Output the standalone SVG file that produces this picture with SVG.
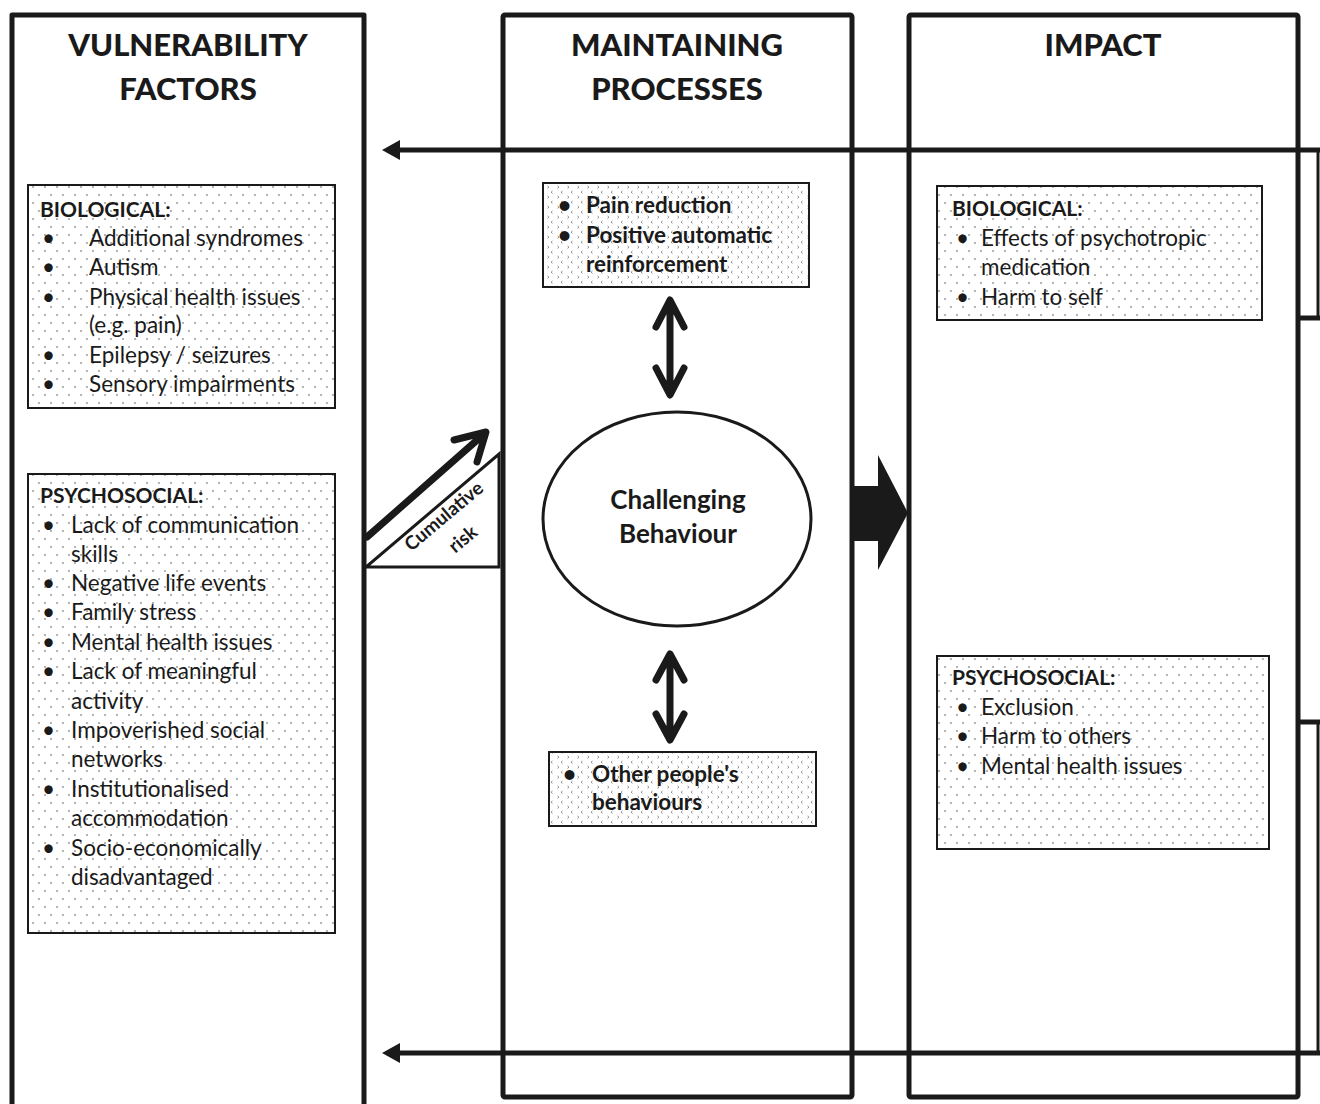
<svg xmlns="http://www.w3.org/2000/svg" width="1320" height="1104" viewBox="0 0 1320 1104">
<defs>
<pattern id="dots" width="12" height="16" patternUnits="userSpaceOnUse">
<rect width="12" height="16" fill="#fff"/>
<circle cx="3" cy="3" r="0.8" fill="#555"/>
<circle cx="9" cy="11" r="0.8" fill="#555"/>
</pattern>
<pattern id="chev" width="10" height="10" patternUnits="userSpaceOnUse">
<rect width="10" height="10" fill="#fff"/>
<path d="M2.5,1 L1,2.2 L2.5,3.4 M7.5,6 L9,7.2 L7.5,8.4" fill="none" stroke="#666" stroke-width="0.7"/>
</pattern>
</defs>
<style>
.col{fill:none;stroke:#1a1a1a;stroke-width:5;stroke-linejoin:round}
.box{stroke:#1a1a1a;stroke-width:2}
.hd{font-family:Lato,"Open Sans",sans-serif;font-weight:900;font-size:31px;fill:#1a1a1a;text-anchor:middle}
.t{font-family:Lato,"Open Sans",sans-serif;font-size:22.5px;fill:#1a1a1a}
.b{font-family:Lato,"Open Sans",sans-serif;font-size:21px;font-weight:bold;fill:#1a1a1a}
.mb{font-family:Lato,"Open Sans",sans-serif;font-size:22.5px;font-weight:bold;fill:#1a1a1a}
.ln{stroke:#1a1a1a;stroke-width:5;fill:none}
.dbl{fill:none;stroke:#1a1a1a;stroke-width:7;stroke-linecap:round;stroke-linejoin:round}
</style>

<g id="col-vulnerability">
<path class="col" d="M12,1104 V15 H364 V1104"/>
<text class="hd" x="188" y="56">VULNERABILITY</text>
<text class="hd" x="188" y="100">FACTORS</text>
</g>
<g id="col-maintaining">
<rect class="col" x="503" y="15" width="349" height="1082" rx="2"/>
<text class="hd" x="677" y="56">MAINTAINING</text>
<text class="hd" x="677" y="100">PROCESSES</text>
</g>
<g id="col-impact">
<rect class="col" x="909" y="15" width="389" height="1082" rx="2"/>
<text class="hd" x="1103" y="56">IMPACT</text>
</g>

<g id="connectors">
<line class="ln" x1="398" y1="150" x2="1320" y2="150"/>
<polygon points="382,150 400,140 400,160" fill="#1a1a1a"/>
<line class="ln" x1="398" y1="1053" x2="1320" y2="1053"/>
<polygon points="382,1053 400,1043 400,1063" fill="#1a1a1a"/>
<line class="ln" x1="1297" y1="318" x2="1320" y2="318"/>
<line x1="1318" y1="150" x2="1318" y2="318" stroke="#1a1a1a" stroke-width="3"/>
<line class="ln" x1="1297" y1="722" x2="1320" y2="722"/>
<line x1="1318" y1="722" x2="1318" y2="1053" stroke="#1a1a1a" stroke-width="3"/>
<path class="dbl" d="M670,302 V394 M656,327 L670,300 L684,327 M656,368 L670,395 L684,368"/>
<path class="dbl" d="M670,656 V738 M656,680 L670,654 L684,680 M656,714 L670,740 L684,714"/>
<polygon points="852,486 878,486 878,455 908,513 878,570 878,541 852,541" fill="#1a1a1a"/>
<polygon points="366,567 499,567 499,454" fill="#fff" stroke="#1a1a1a" stroke-width="3" stroke-linejoin="miter"/>
<path d="M367,537 L484,434 M454,440 L486,432 L477,462" fill="none" stroke="#1a1a1a" stroke-width="7" stroke-linecap="round" stroke-linejoin="round"/>
<text transform="translate(448,521) rotate(-40)" font-family="Lato,'Open Sans',sans-serif" font-weight="bold" font-size="19" fill="#1a1a1a" text-anchor="middle">Cumulative</text>
<text transform="translate(467,544) rotate(-40)" font-family="Lato,'Open Sans',sans-serif" font-weight="bold" font-size="19" fill="#1a1a1a" text-anchor="middle">risk</text>
</g>

<g id="vf-biological">
<rect class="box" x="28" y="185" width="307" height="223" fill="url(#dots)"/>
<text class="b" x="40" y="217">BIOLOGICAL:</text>
<g class="t">
<text x="42" y="246">•</text><text x="89" y="246">Additional syndromes</text>
<text x="42" y="275">•</text><text x="89" y="275">Autism</text>
<text x="42" y="305">•</text><text x="89" y="305">Physical health issues</text>
<text x="89" y="333">(e.g. pain)</text>
<text x="42" y="363">•</text><text x="89" y="363">Epilepsy / seizures</text>
<text x="42" y="392">•</text><text x="89" y="392">Sensory impairments</text>
</g>
</g>

<g id="vf-psychosocial">
<rect class="box" x="28" y="474" width="307" height="459" fill="url(#dots)"/>
<text class="b" x="40" y="503">PSYCHOSOCIAL:</text>
<g class="t">
<text x="42" y="533">•</text><text x="71" y="533">Lack of communication</text>
<text x="71" y="562">skills</text>
<text x="42" y="591">•</text><text x="71" y="591">Negative life events</text>
<text x="42" y="620">•</text><text x="71" y="620">Family stress</text>
<text x="42" y="650">•</text><text x="71" y="650">Mental health issues</text>
<text x="42" y="679">•</text><text x="71" y="679">Lack of meaningful</text>
<text x="71" y="709">activity</text>
<text x="42" y="738">•</text><text x="71" y="738">Impoverished social</text>
<text x="71" y="767">networks</text>
<text x="42" y="797">•</text><text x="71" y="797">Institutionalised</text>
<text x="71" y="826">accommodation</text>
<text x="42" y="856">•</text><text x="71" y="856">Socio-economically</text>
<text x="71" y="885">disadvantaged</text>
</g>
</g>

<g id="mp-reinforcement">
<rect class="box" x="543" y="183" width="266" height="104" fill="url(#chev)"/>
<g class="mb">
<text x="558" y="213">•</text><text x="586" y="213">Pain reduction</text>
<text x="558" y="243">•</text><text x="586" y="243">Positive automatic</text>
<text x="586" y="272">reinforcement</text>
</g>
</g>

<g id="mp-challenging">
<ellipse cx="677" cy="519" rx="134" ry="107" fill="#fff" stroke="#1a1a1a" stroke-width="3"/>
<text x="678" y="509" font-family="Lato,'Open Sans',sans-serif" font-weight="bold" font-size="26" fill="#1a1a1a" text-anchor="middle">Challenging</text>
<text x="678" y="543" font-family="Lato,'Open Sans',sans-serif" font-weight="bold" font-size="26" fill="#1a1a1a" text-anchor="middle">Behaviour</text>
</g>

<g id="mp-others">
<rect class="box" x="549" y="752" width="267" height="74" fill="url(#chev)"/>
<g class="mb">
<text x="563" y="782">•</text><text x="592" y="782">Other people's</text>
<text x="592" y="810">behaviours</text>
</g>
</g>

<g id="im-biological">
<rect class="box" x="937" y="186" width="325" height="134" fill="url(#dots)"/>
<text class="b" x="952" y="216">BIOLOGICAL:</text>
<g class="t">
<text x="956" y="246">•</text><text x="981" y="246">Effects of psychotropic</text>
<text x="981" y="275">medication</text>
<text x="956" y="305">•</text><text x="981" y="305">Harm to self</text>
</g>
</g>

<g id="im-psychosocial">
<rect class="box" x="937" y="656" width="332" height="193" fill="url(#dots)"/>
<text class="b" x="952" y="685">PSYCHOSOCIAL:</text>
<g class="t">
<text x="956" y="715">•</text><text x="981" y="715">Exclusion</text>
<text x="956" y="744">•</text><text x="981" y="744">Harm to others</text>
<text x="956" y="774">•</text><text x="981" y="774">Mental health issues</text>
</g>
</g>
</svg>
